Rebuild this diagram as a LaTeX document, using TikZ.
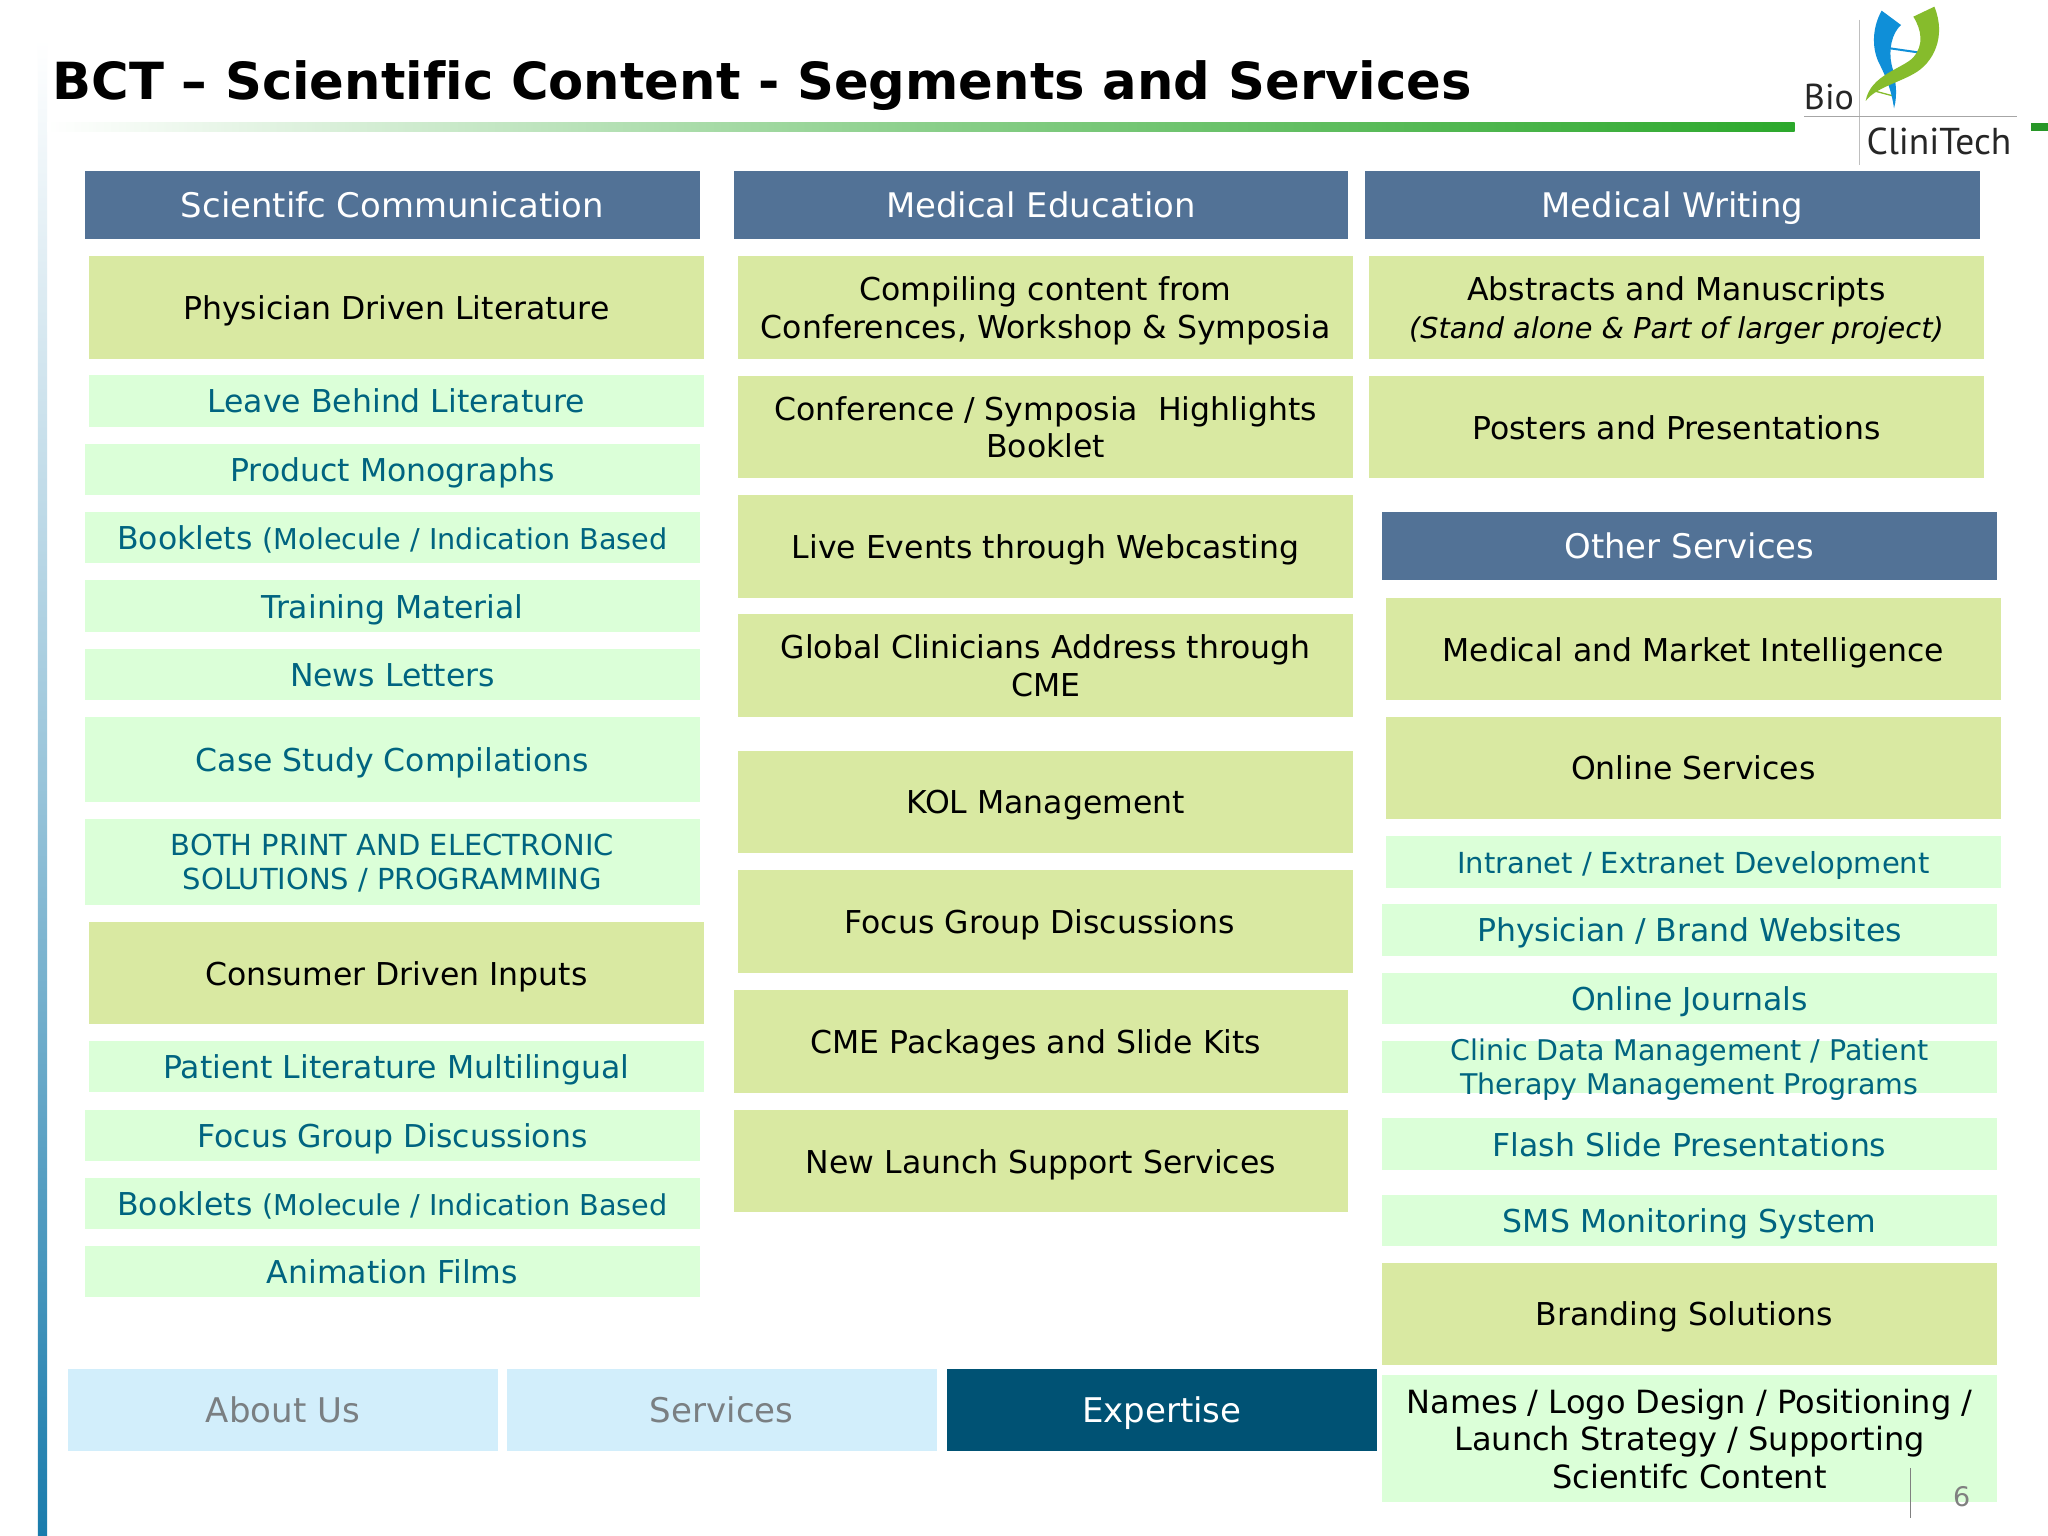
\documentclass[tikz,border=0pt]{standalone}
\usepackage{fontspec}
\setmainfont{DejaVu Sans}
\newfontfamily\logofont{PT Sans}
\definecolor{hdr}{HTML}{527296}
\definecolor{olive}{HTML}{D9E9A2}
\definecolor{mint}{HTML}{DBFFD8}
\definecolor{teal}{HTML}{006480}
\definecolor{navl}{HTML}{D2EEFB}
\definecolor{navd}{HTML}{005274}
\definecolor{navt}{HTML}{7A7F82}
\definecolor{barg}{HTML}{2CA82C}
\definecolor{barb}{HTML}{1A7CAC}
\definecolor{logob}{HTML}{0F8FD8}
\definecolor{logog}{HTML}{86BC2C}
\tikzset{
 x=1.30612pt,y=-1.30612pt,
 boxbase/.style={inner sep=0pt,outer sep=0pt,align=center,text depth=-2pt},
 hdrbox/.style={boxbase,fill=hdr,text=white,font=\fontsize{33.9}{37}\selectfont},
 olivebox/.style={boxbase,fill=olive,text=black,font=\fontsize{31.5}{37.5}\selectfont},
 mintbox/.style={boxbase,fill=mint,text=teal,font=\fontsize{31.5}{37.5}\selectfont},
 minttwo/.style={boxbase,fill=mint,text=teal,font=\fontsize{29}{34}\selectfont},
 mintblack/.style={boxbase,fill=mint,text=black,font=\fontsize{32}{37.5}\selectfont},
 navlight/.style={boxbase,fill=navl,text=navt,font=\fontsize{34}{37}\selectfont},
 navdark/.style={boxbase,fill=navd,text=white,font=\fontsize{34}{37}\selectfont},
}
% \bx{style}{name}{x0}{y0}{x1}{y1}{text}: box plus its text
\newcommand{\bx}[7]{%
 \pgfmathsetmacro{\bxw}{(#5-#3)*1.30612}%
 \pgfmathsetmacro{\bxh}{(#6-#4)*1.30612}%
 \node[#1,minimum width=\bxw pt,minimum height=\bxh pt] (#2) at ({(#3+#5)/2},{(#4+#6)/2}) {#7};}
\begin{document}
\begin{tikzpicture}
\useasboundingbox (0,0) rectangle (1568,1176);
\fill[white] (0,0) rectangle (1568,1176);
% frame bars
\shade[top color=white,bottom color=barb,middle color=barb!45] (29,30) rectangle (36,1176);
\shade[left color=white,right color=barg,middle color=barg!55] (36,94) rectangle (1374,100.5);
\fill[barg!90!black] (1555,94) rectangle (1568,100.5);
% title
\node[anchor=base west,inner sep=0pt,font=\bfseries\fontsize{51.2}{60}\selectfont] (title) at (40,76.5) {BCT – Scienti\mbox{f}ic Content - Segments and Services};
% logo
\begin{scope}[xshift=1700pt,x=0.33333pt,y=-0.33333pt]
\draw[black!25,line width=1pt] (478,60) -- (478,495);
\draw[black!35,line width=1pt] (312,349) -- (950,349);
\draw[logob,line width=2pt] (570,145) -- (660,158);
\draw[logog,line width=1.3pt] (520,272) -- (580,288);
\fill[logob] (545,32) -- (603,75) .. controls (575,100) and (565,150) .. (575,195) .. controls (585,230) and (595,280) .. (582,325) .. controls (575,275) and (560,235) .. (540,195) .. controls (515,150) and (515,85) .. (545,32) -- cycle;
\fill[logog] (703,20) -- (640,50) .. controls (665,90) and (672,135) .. (640,172) .. controls (610,205) and (510,225) .. (497,303) .. controls (525,265) and (590,250) .. (640,222) .. controls (700,190) and (740,110) .. (703,20) -- cycle;
\end{scope}
\node[anchor=base west,inner sep=0pt,text=black!85,font=\logofont\fontsize{36}{37}\selectfont] (bio) at (1381,83.5) {Bio};
\node[anchor=base west,inner sep=0pt,text=black!85,font=\logofont\fontsize{37.4}{37}\selectfont] (clini) at (1429,118) {CliniTech};
% headers
\bx{hdrbox}{h1}{65}{131}{536}{183}{Scientifc Communication}
\bx{hdrbox}{h2}{562}{131}{1032}{183}{Medical Education}
\bx{hdrbox}{h3}{1045}{131}{1516}{183}{Medical Writing}
\bx{hdrbox}{h4}{1058}{392}{1529}{444}{Other Services}
% left column
\bx{olivebox}{a1}{68}{196}{539}{275}{Physician Driven Literature}
\bx{mintbox}{a2}{68}{287}{539}{327}{Leave Behind Literature}
\bx{mintbox}{a3}{65}{340}{536}{379}{Product Monographs}
\bx{mintbox}{a4}{65}{392}{536}{431}{Booklets {\fontsize{28.7}{30}\selectfont (Molecule / Indication Based}}
\bx{mintbox}{a5}{65}{444}{536}{484}{Training Material}
\bx{mintbox}{a6}{65}{497}{536}{536}{News Letters}
\bx{mintbox}{a7}{65}{549}{536}{614}{Case Study Compilations}
\bx{minttwo}{a8}{65}{627}{536}{693}{BOTH PRINT AND ELECTRONIC\\SOLUTIONS / PROGRAMMING}
\bx{olivebox}{a9}{68}{706}{539}{784}{Consumer Driven Inputs}
\bx{mintbox}{a10}{68}{797}{539}{836}{Patient Literature Multilingual}
\bx{mintbox}{a11}{65}{850}{536}{889}{Focus Group Discussions}
\bx{mintbox}{a12}{65}{902}{536}{941}{Booklets {\fontsize{28.7}{30}\selectfont (Molecule / Indication Based}}
\bx{mintbox}{a13}{65}{954}{536}{993}{Animation Films}
% middle column
\bx{olivebox}{b1}{565}{196}{1036}{275}{Compiling content from\\Conferences, Workshop \& Symposia}
\bx{olivebox}{b2}{565}{288}{1036}{366}{Conference / Symposia\ \ Highlights\\Booklet}
\bx{olivebox}{b3}{565}{379}{1036}{458}{Live Events through Webcasting}
\bx{olivebox}{b4}{565}{470}{1036}{549}{Global Clinicians Address through\\CME}
\bx{olivebox}{b5}{565}{575}{1036}{653}{KOL Management}
\bx{olivebox}{b6}{565}{666}{1036}{745}{Focus Group Discussions\hspace*{12pt}}
\bx{olivebox}{b7}{562}{758}{1032}{837}{CME Packages and Slide Kits\hspace*{10pt}}
\bx{olivebox}{b8}{562}{850}{1032}{928}{New Launch Support Services}
% right column
\bx{olivebox}{c1}{1048}{196}{1519}{275}{Abstracts and Manuscripts\\{\itshape\fontsize{28.8}{37.5}\selectfont (Stand alone \& Part of larger project)}}
\bx{olivebox}{c2}{1048}{288}{1519}{366}{Posters and Presentations}
\bx{olivebox}{d1}{1061}{458}{1532}{536}{Medical and Market Intelligence}
\bx{olivebox}{d2}{1061}{549}{1532}{627}{Online Services}
\bx{minttwo}{d3}{1061}{640}{1532}{680}{Intranet / Extranet Development}
\bx{mintbox}{d4}{1058}{692}{1529}{732}{Physician / Brand Websites}
\bx{mintbox}{d5}{1058}{745}{1529}{784}{Online Journals}
\bx{mintbox}{d6}{1058}{797}{1529}{837}{}
\node[boxbase,text=teal,font=\fontsize{28.5}{34}\selectfont] (d6t) at (d6) {Clinic Data Management / Patient\\Therapy Management Programs};
\bx{mintbox}{d7}{1058}{856}{1529}{896}{Flash Slide Presentations}
\bx{mintbox}{d8}{1058}{915}{1529}{954}{SMS Monitoring System}
\bx{olivebox}{d9}{1058}{967}{1529}{1045}{Branding Solutions\hspace*{10pt}}
\bx{mintblack}{d10}{1058}{1053}{1529}{1150}{Names / Logo Design / Positioning /\\Launch Strategy / Supporting\\Scientifc Content}
% navigation
\bx{navlight}{n1}{52}{1048}{381}{1111}{About Us}
\bx{navlight}{n2}{388}{1048}{717}{1111}{Services}
\bx{navdark}{n3}{725}{1048}{1054}{1111}{Expertise}
% page number
\coordinate (pa) at (1463,1124);
\coordinate (pb) at (1463,1162);
\draw[black!50,line width=1pt] (pa) -- (pb);
\node[text=black!50,inner sep=0pt,font=\fontsize{27}{28}\selectfont] (pg) at (1502,1146) {6};
\end{tikzpicture}
\end{document}
